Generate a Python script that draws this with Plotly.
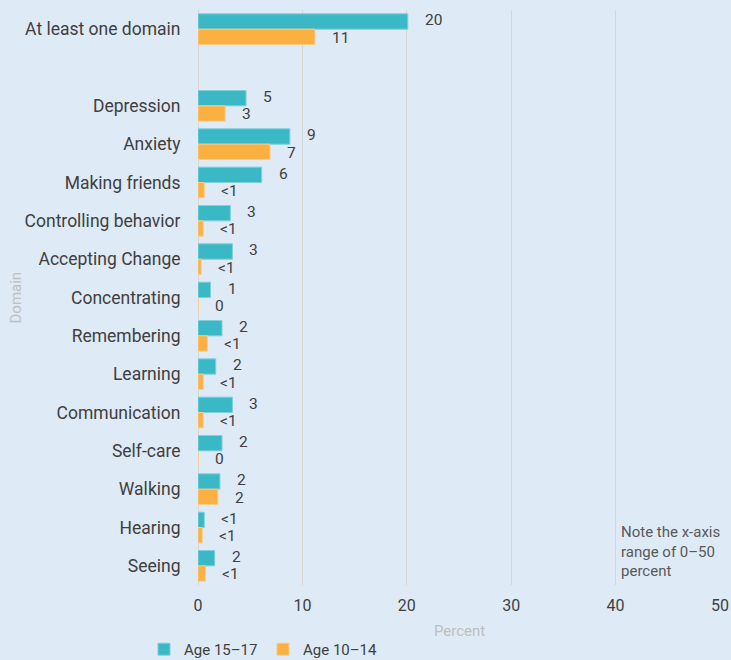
import plotly.graph_objects as go

# Functional-difficulty domains, top to bottom
domains = [
    "At least one domain",
    "Depression", "Anxiety", "Making friends", "Controlling behavior",
    "Accepting Change", "Concentrating", "Remembering", "Learning",
    "Communication", "Self-care", "Walking", "Hearing", "Seeing",
]

# Percent of children with a functional difficulty, by age group
age_15_17 = [20.1, 4.6, 8.8, 6.1, 3.1, 3.3, 1.2, 2.3, 1.7, 3.3, 2.3, 2.1, 0.6, 1.6]
age_10_14 = [11.2, 2.6, 6.9, 0.6, 0.5, 0.3, 0.0, 0.9, 0.5, 0.5, 0.0, 1.9, 0.4, 0.7]

x_ticks = [0, 10, 20, 30, 40, 50]

TEAL = "#3BB8C5"
ORANGE = "#FBB042"
BG = "#DEEAF6"
TEXT = "#404040"
LIGHT = "#BFBFBF"
FONT = "Roboto"


def label(v):
    if v == 0:
        return "0"
    if v < 1:
        return "<1"
    return str(int(round(v)))


# Row positions: a blank row separates the summary row from the domains
rows = [0] + [i + 1 for i in range(1, len(domains))]

fig = go.Figure()
fig.add_trace(go.Bar(
    name="Age 15\u201317", orientation="h",
    x=age_15_17, y=rows, offset=-0.4, width=0.4,
    marker=dict(color=TEAL, line=dict(color="#7FD0D9", width=1)),
))
fig.add_trace(go.Bar(
    name="Age 10\u201314", orientation="h",
    x=age_10_14, y=rows, offset=0.0, width=0.4,
    marker=dict(color=ORANGE, line=dict(color="#FCCB84", width=1)),
))

# Value labels just past each bar end
for vals, dy in ((age_15_17, -0.23), (age_10_14, 0.22)):
    for v, r in zip(vals, rows):
        fig.add_annotation(
            x=v, y=r + dy, xref="x", yref="y", text=label(v),
            showarrow=False, xanchor="left", yanchor="middle", xshift=15,
            font=dict(family=FONT, size=15.5, color=TEXT),
        )

fig.add_annotation(
    x=40, y=0.059, xref="x", yref="paper", xshift=3,
    text="Note the x-axis<br>range of 0\u201350<br>percent",
    showarrow=False, xanchor="left", yanchor="middle", align="left",
    font=dict(family=FONT, size=15, color="#595959"),
)

# Axis titles
fig.add_annotation(
    x=0.5, y=0, xref="paper", yref="paper", yshift=-46,
    text="Percent", showarrow=False, xanchor="center", yanchor="middle",
    font=dict(family=FONT, size=15, color=LIGHT),
)
fig.add_annotation(
    x=0, y=0.5, xref="paper", yref="paper", xshift=-183,
    text="Domain", showarrow=False, textangle=-90,
    xanchor="center", yanchor="middle",
    font=dict(family=FONT, size=15, color=LIGHT),
)

fig.update_layout(
    width=731, height=660,
    margin=dict(l=198, r=11, t=10, b=75),
    paper_bgcolor=BG, plot_bgcolor=BG,
    font=dict(family=FONT, size=16, color=TEXT),
    barmode="overlay",
    showlegend=True,
    legend=dict(
        orientation="h", x=0.197, xref="container", y=0.016, yref="container",
        xanchor="left", yanchor="middle",
        font=dict(family=FONT, size=15, color=TEXT),
        itemwidth=30, entrywidth=74, bgcolor="rgba(0,0,0,0)",
    ),
    xaxis=dict(
        range=[0, 50], tickvals=x_ticks, showgrid=True,
        gridcolor="#D6D6D6", gridwidth=1, zeroline=True,
        zerolinecolor="#D6D6D6", zerolinewidth=1,
        ticks="outside", ticklen=6, tickcolor="rgba(0,0,0,0)",
        tickfont=dict(family=FONT, size=16, color=TEXT),
        automargin=False,
    ),
    yaxis=dict(
        range=[14.5, -0.5], tickvals=rows, ticktext=domains,
        showgrid=False, zeroline=False,
        ticks="outside", ticklen=13, tickcolor="rgba(0,0,0,0)",
        tickfont=dict(family=FONT, size=17.5, color=TEXT),
        automargin=False,
    ),
)

fig.write_html("out.html")
